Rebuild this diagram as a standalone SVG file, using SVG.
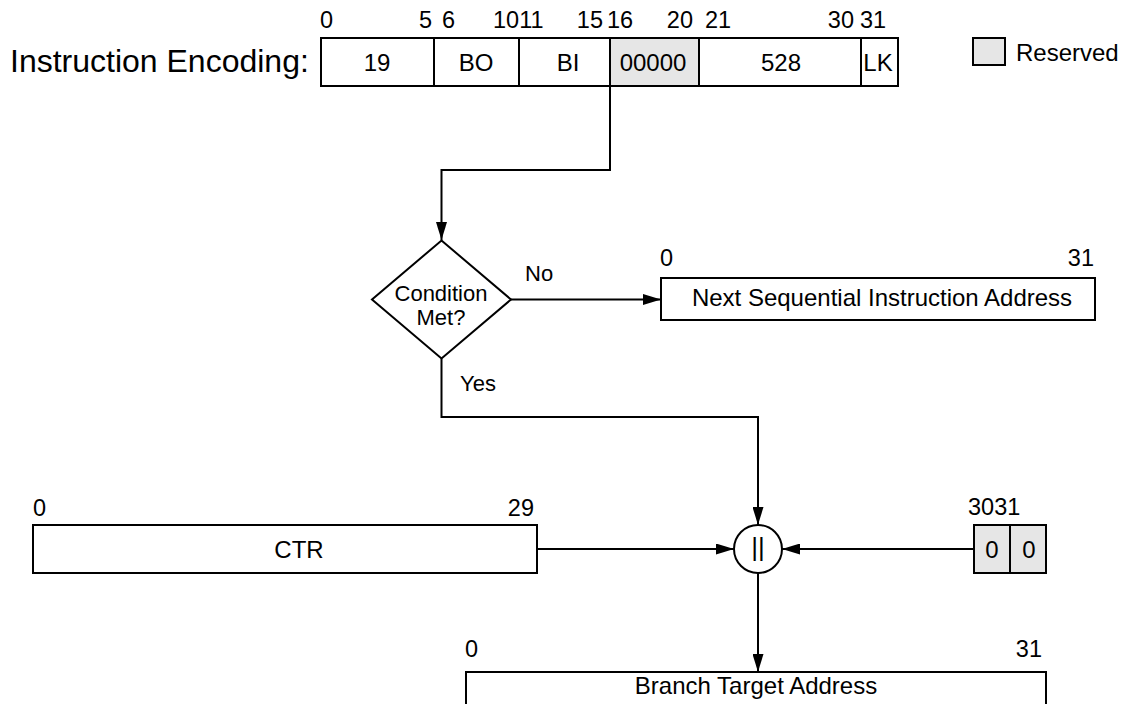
<svg xmlns="http://www.w3.org/2000/svg" width="1135" height="704" viewBox="0 0 1135 704">
<style>
text{font-family:"Liberation Sans",Arial,Helvetica,sans-serif;fill:#000}
.num{font-size:23.5px}
.lbl{font-size:22px}
.bx{font-size:24px;text-anchor:middle}
.title{font-size:32px}
.box{fill:#fff;stroke:#000;stroke-width:2}
.res{fill:#e6e6e6;stroke:#000;stroke-width:2}
.ln{fill:none;stroke:#000;stroke-width:2}
.e{text-anchor:end}
.m{text-anchor:middle}
</style>
<defs>
<marker id="ah" markerWidth="18" markerHeight="11" refX="18" refY="5.5" orient="auto" markerUnits="userSpaceOnUse">
<path d="M0,0 L18,5.5 L0,11 Z" fill="#000"/>
</marker>
</defs>
<rect width="1135" height="704" fill="#fff"/>
<g id="encoding">
<text class="title" x="10" y="72">Instruction Encoding:</text>
<rect class="box" x="321" y="38" width="577" height="48"/>
<rect class="res" x="610" y="38" width="89" height="48"/>
<path class="ln" d="M434,38V86M519,38V86M861,38V86"/>
<text class="bx" x="377" y="71">19</text>
<text class="bx" x="476" y="71">BO</text>
<text class="bx" x="568" y="71">BI</text>
<text class="bx" x="653" y="71">00000</text>
<text class="bx" x="781" y="71">528</text>
<text class="bx" x="878" y="71">LK</text>
<text class="num" x="320" y="28">0</text>
<text class="num e" x="432" y="28">5</text>
<text class="num" x="442" y="28">6</text>
<text class="num" x="493" y="28">1011</text>
<text class="num e" x="603" y="28">15</text>
<text class="num" x="607" y="28">16</text>
<text class="num e" x="693" y="28">20</text>
<text class="num" x="705" y="28">21</text>
<text class="num e" x="854" y="28">30</text>
<text class="num" x="860" y="28">31</text>
</g>
<g id="legend">
<rect class="res" x="973" y="38" width="32" height="27"/>
<text x="1016" y="61" style="font-size:24px">Reserved</text>
</g>
<g id="condition">
<polygon class="box" points="441.5,240.5 511,299.5 441.5,358.5 372,299.5"/>
<text class="lbl m" x="441" y="301">Condition</text>
<text class="lbl m" x="441" y="325">Met?</text>
</g>
<g id="next-address">
<rect class="box" x="661" y="278" width="434" height="42"/>
<text class="bx" x="882" y="306">Next Sequential Instruction Address</text>
<text class="num" x="660" y="266">0</text>
<text class="num e" x="1094" y="266">31</text>
</g>
<g id="ctr">
<rect class="box" x="33" y="525" width="504" height="48"/>
<text class="bx" x="299" y="558">CTR</text>
<text class="num" x="33" y="516">0</text>
<text class="num e" x="534" y="516">29</text>
</g>
<g id="concat">
<circle class="box" cx="758" cy="549" r="24"/>
<text class="m" x="758" y="556" style="font-size:26px">||</text>
</g>
<g id="zeros">
<rect class="res" x="974" y="525" width="72" height="48"/>
<path class="ln" d="M1010,525V573"/>
<text class="bx" x="992" y="558">0</text>
<text class="bx" x="1029" y="558">0</text>
<text class="num" x="968" y="515">3031</text>
</g>
<g id="branch-target">
<rect class="box" x="466" y="672" width="580" height="50"/>
<text class="bx" x="756" y="694">Branch Target Address</text>
<text class="num" x="465" y="657">0</text>
<text class="num e" x="1042" y="657">31</text>
</g>
<g id="connectors">
<path class="ln" d="M610,86V170H441.5V240" marker-end="url(#ah)"/>
<path class="ln" d="M511,299.5H661" marker-end="url(#ah)"/>
<text class="lbl" x="525" y="281">No</text>
<path class="ln" d="M441.5,358.5V417H758V525" marker-end="url(#ah)"/>
<text class="lbl" x="460" y="391">Yes</text>
<path class="ln" d="M537,549H734" marker-end="url(#ah)"/>
<path class="ln" d="M974,549H782" marker-end="url(#ah)"/>
<path class="ln" d="M758,573V672" marker-end="url(#ah)"/>
</g>
</svg>
